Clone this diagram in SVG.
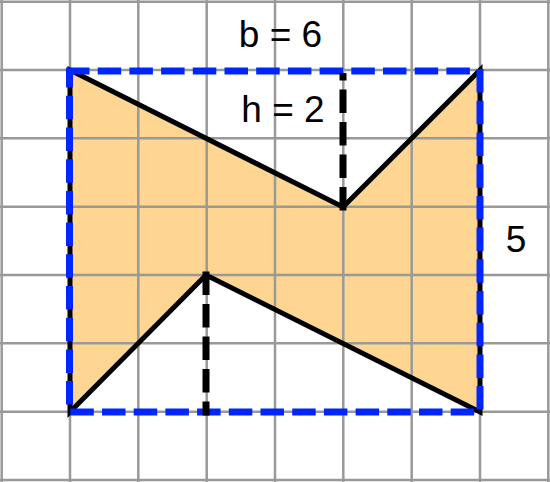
<svg xmlns="http://www.w3.org/2000/svg" width="550" height="482" viewBox="0 0 550 482">
  <style>
    .grid line { stroke: #999999; stroke-width: 2.5; }
    .lbl { font-family: "Liberation Sans", Arial, sans-serif; font-size: 37px; fill: #000000; text-anchor: middle; }
    .hdash { stroke: #000000; stroke-width: 7; stroke-linecap: square; stroke-dasharray: 16.5 16; fill: none; }
  </style>
  <rect x="0" y="0" width="550" height="482" fill="#ffffff"/>
  <g id="shape-fill">
    <polygon points="70,70 343,207 480,70 480,412 206,275 70,412" fill="#FFD691" stroke="none"/>
  </g>
  <g class="grid" id="grid">
    <line x1="1.7" y1="0" x2="1.7" y2="482"/>
    <line x1="70" y1="0" x2="70" y2="482"/>
    <line x1="138.3" y1="0" x2="138.3" y2="482"/>
    <line x1="206.7" y1="0" x2="206.7" y2="482"/>
    <line x1="275" y1="0" x2="275" y2="482"/>
    <line x1="343.3" y1="0" x2="343.3" y2="482"/>
    <line x1="411.7" y1="0" x2="411.7" y2="482"/>
    <line x1="480" y1="0" x2="480" y2="482"/>
    <line x1="548.3" y1="0" x2="548.3" y2="482"/>
    <line x1="0" y1="1.7" x2="550" y2="1.7"/>
    <line x1="0" y1="70" x2="550" y2="70"/>
    <line x1="0" y1="138.3" x2="550" y2="138.3"/>
    <line x1="0" y1="206.7" x2="550" y2="206.7"/>
    <line x1="0" y1="275" x2="550" y2="275"/>
    <line x1="0" y1="343.3" x2="550" y2="343.3"/>
    <line x1="0" y1="411.7" x2="550" y2="411.7"/>
    <line x1="0" y1="480" x2="550" y2="480"/>
  </g>
  <g id="shape-outline">
    <polygon points="70,70 343,207 480,70 480,412 206,275 70,412" fill="none" stroke="#000000" stroke-width="5"/>
  </g>
  <g id="bounding-box">
    <rect x="69.5" y="71" width="410.5" height="341" fill="none" stroke="#0026FF" stroke-width="7" stroke-linecap="square" stroke-dasharray="16.5 15.2"/>
  </g>
  <g id="connectors">
    <line class="hdash" x1="343" y1="207" x2="343" y2="76.5"/>
    <line class="hdash" x1="206" y1="275" x2="206" y2="412"/>
  </g>
  <g id="labels">
    <text class="lbl" x="280.5" y="46.5">b = 6</text>
    <text class="lbl" x="283" y="121.5">h = 2</text>
    <text class="lbl" x="516" y="252">5</text>
  </g>
</svg>
